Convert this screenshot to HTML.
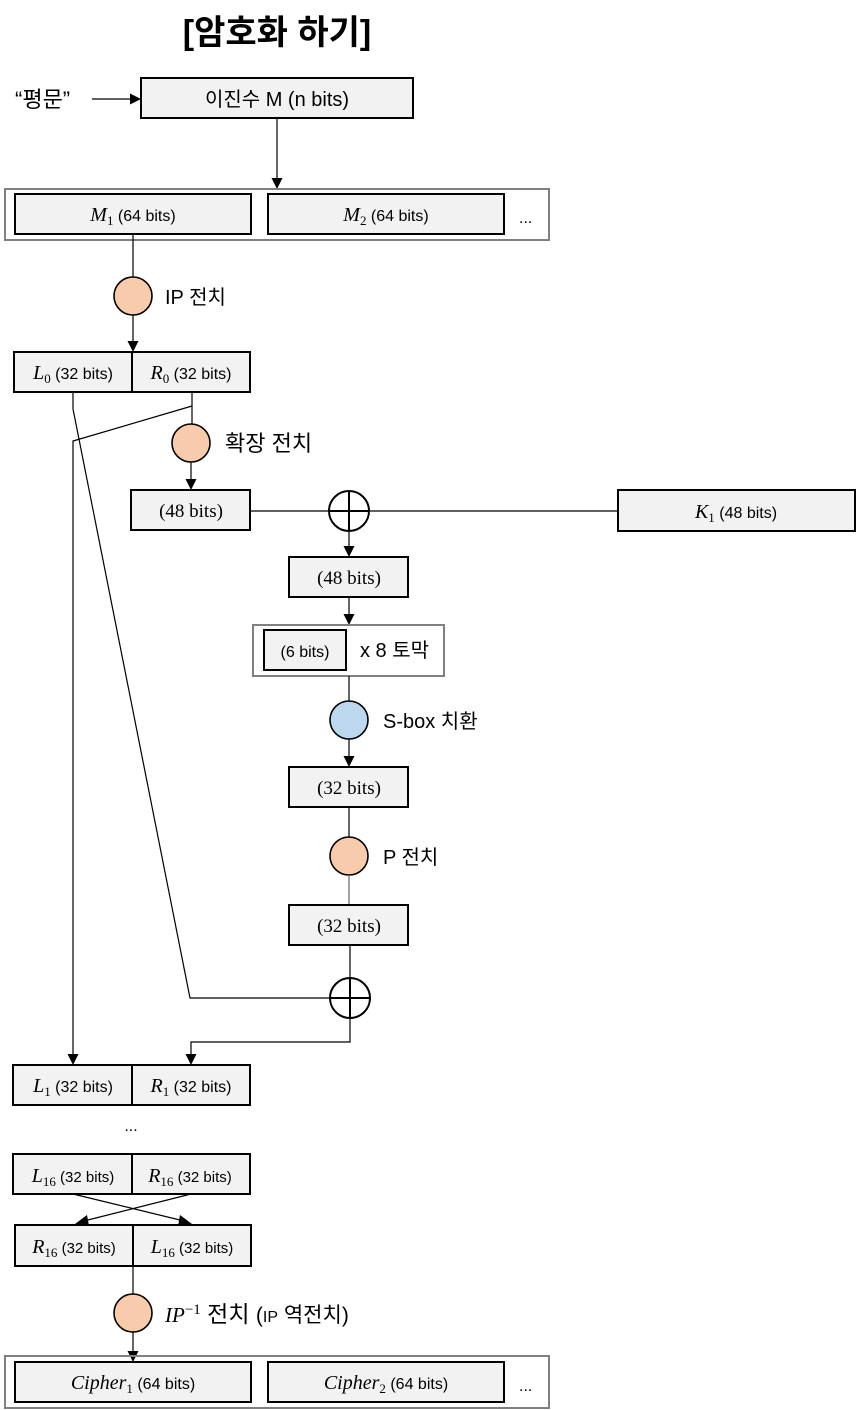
<!DOCTYPE html>
<html><head><meta charset="utf-8"><style>
html,body{margin:0;padding:0;background:#fff;}
svg{display:block;}
text{font-family:"Liberation Sans","Noto Sans CJK KR",sans-serif;fill:#000;}
.m{font-family:"Liberation Serif",serif;font-style:italic;font-size:20px;}
.sub{font-family:"Liberation Serif",serif;font-size:13px;}
.s{font-size:16px;}
.s2{font-size:15px;}
.ser{font-family:"Liberation Serif",serif;font-size:19px;}
.kr{font-family:"Liberation Sans","Noto Sans CJK KR",sans-serif;font-size:20px;}
.box{fill:#f2f2f2;stroke:#000;stroke-width:2;}
.gbox{fill:none;stroke:#808080;stroke-width:2;}
.ln{stroke:#000;stroke-width:1.2;fill:none;}
.c1{fill:#f8cbad;stroke:#000;stroke-width:1.6;}
.c2{fill:#bdd7ee;stroke:#000;stroke-width:1.6;}
.x{fill:#fff;stroke:#000;stroke-width:2;}
</style></head><body>
<svg width="856" height="1410" viewBox="0 0 856 1410" xmlns="http://www.w3.org/2000/svg">
<!-- title -->
<text x="277" y="44" text-anchor="middle" style="font-size:34px;font-weight:bold;">[암호화 하기]</text>

<!-- plaintext -->
<text x="15" y="107" style="font-size:22px;">“평문”</text>
<line class="ln" x1="92" y1="99" x2="133" y2="99"/>
<polygon points="130,93.5 141,99 130,104.5"/>
<rect class="box" x="141" y="78" width="272" height="40"/>
<text x="277" y="106" text-anchor="middle" style="font-size:20px;">이진수 M (n bits)</text>
<line class="ln" x1="277" y1="118" x2="277" y2="179"/>
<polygon points="271.5,178 282.5,178 277,189"/>

<!-- M blocks -->
<rect class="gbox" x="5" y="189" width="544" height="51"/>
<rect class="box" x="15" y="194" width="236" height="40"/>
<rect class="box" x="268" y="194" width="236" height="40"/>
<text x="133" y="221" text-anchor="middle"><tspan class="m">M</tspan><tspan class="sub" dy="4">1</tspan><tspan class="s" dy="-4"> (64 bits)</tspan></text>
<text x="386" y="221" text-anchor="middle"><tspan class="m">M</tspan><tspan class="sub" dy="4">2</tspan><tspan class="s" dy="-4"> (64 bits)</tspan></text>
<text x="519" y="223" style="font-size:16px;">...</text>

<!-- IP -->
<line class="ln" x1="133" y1="234" x2="133" y2="277"/>
<circle class="c1" cx="133" cy="296" r="19"/>
<text x="165" y="304" class="kr">IP 전치</text>
<line class="ln" x1="133" y1="315" x2="133" y2="342"/>
<polygon points="127.5,341 138.5,341 133,352"/>

<!-- L0 R0 -->
<rect class="box" x="14" y="352" width="236" height="40"/>
<line x1="132" y1="352" x2="132" y2="392" stroke="#000" stroke-width="2"/>
<text x="73" y="379" text-anchor="middle"><tspan class="m">L</tspan><tspan class="sub" dy="4">0</tspan><tspan class="s" dy="-4"> (32 bits)</tspan></text>
<text x="191" y="379" text-anchor="middle"><tspan class="m">R</tspan><tspan class="sub" dy="4">0</tspan><tspan class="s" dy="-4">  (32 bits)</tspan></text>

<!-- cross lines -->
<polyline class="ln" points="73,392 73,409 190,998 330,998"/>
<polyline class="ln" points="192,392 192,406 73,441 73,1055"/>
<polygon points="67.5,1054 78.5,1054 73,1065"/>

<!-- expansion -->
<line class="ln" x1="192" y1="406" x2="192" y2="424"/>
<circle class="c1" cx="191" cy="443" r="19"/>
<text x="225" y="451" class="kr" style="font-size:22px;">확장 전치</text>
<line class="ln" x1="191" y1="462" x2="191" y2="480"/>
<polygon points="185.5,479 196.5,479 191,490"/>
<rect class="box" x="131" y="490" width="119" height="40"/>
<text x="191" y="517" text-anchor="middle" class="ser">(48 bits)</text>

<line class="ln" x1="250" y1="511" x2="618" y2="511"/>
<circle class="x" cx="349" cy="511" r="20"/>
<line x1="349" y1="491" x2="349" y2="531" stroke="#000" stroke-width="2"/>
<line x1="329" y1="511" x2="369" y2="511" stroke="#000" stroke-width="2"/>
<rect class="box" x="618" y="490" width="237" height="41"/>
<text x="736" y="518" text-anchor="middle"><tspan class="m">K</tspan><tspan class="sub" dy="4">1</tspan><tspan class="s" dy="-4"> (48 bits)</tspan></text>

<line class="ln" x1="349" y1="531" x2="349" y2="547"/>
<polygon points="343.5,546 354.5,546 349,557"/>
<rect class="box" x="289" y="557" width="119" height="40"/>
<text x="349" y="584" text-anchor="middle" class="ser">(48 bits)</text>
<line class="ln" x1="349" y1="597" x2="349" y2="615"/>
<polygon points="343.5,614 354.5,614 349,625"/>

<rect class="gbox" x="253" y="625" width="191" height="51"/>
<rect class="box" x="264" y="630" width="82" height="40"/>
<text x="305" y="657" text-anchor="middle" class="s">(6 bits)</text>
<text x="360" y="657" style="font-size:20px;">x 8 토막</text>

<!-- S-box -->
<line class="ln" x1="349" y1="676" x2="349" y2="701"/>
<circle class="c2" cx="349" cy="720" r="19"/>
<text x="383" y="728" class="kr">S-box 치환</text>
<line class="ln" x1="349" y1="739" x2="349" y2="757"/>
<polygon points="343.5,756 354.5,756 349,767"/>
<rect class="box" x="289" y="767" width="119" height="40"/>
<text x="349" y="794" text-anchor="middle" class="ser">(32 bits)</text>

<!-- P -->
<line class="ln" x1="349" y1="807" x2="349" y2="837"/>
<circle class="c1" cx="349" cy="856" r="19"/>
<text x="383" y="864" class="kr">P 전치</text>
<line class="ln" x1="349" y1="875" x2="349" y2="905" style="stroke:#666"/>
<rect class="box" x="289" y="905" width="119" height="40"/>
<text x="349" y="932" text-anchor="middle" class="ser">(32 bits)</text>

<line class="ln" x1="350" y1="945" x2="350" y2="978"/>
<circle class="x" cx="350" cy="998" r="20"/>
<line x1="350" y1="978" x2="350" y2="1018" stroke="#000" stroke-width="2"/>
<line x1="330" y1="998" x2="370" y2="998" stroke="#000" stroke-width="2"/>
<polyline class="ln" points="350,1018 350,1042 191,1042 191,1055"/>
<polygon points="185.5,1054 196.5,1054 191,1065"/>

<!-- L1 R1 -->
<rect class="box" x="13" y="1065" width="237" height="40"/>
<line x1="132" y1="1065" x2="132" y2="1105" stroke="#000" stroke-width="2"/>
<text x="73" y="1092" text-anchor="middle"><tspan class="m">L</tspan><tspan class="sub" dy="4">1</tspan><tspan class="s" dy="-4"> (32 bits)</tspan></text>
<text x="191" y="1092" text-anchor="middle"><tspan class="m">R</tspan><tspan class="sub" dy="4">1</tspan><tspan class="s" dy="-4">  (32 bits)</tspan></text>

<text x="131" y="1131" text-anchor="middle" style="font-size:16px;">...</text>

<!-- L16 R16 -->
<rect class="box" x="13" y="1154" width="237" height="40"/>
<line x1="132" y1="1154" x2="132" y2="1194" stroke="#000" stroke-width="2"/>
<text x="73" y="1182" text-anchor="middle"><tspan class="m">L</tspan><tspan class="sub" dy="4">16</tspan><tspan class="s2" dy="-4">  (32 bits)</tspan></text>
<text x="190" y="1182" text-anchor="middle"><tspan class="m">R</tspan><tspan class="sub" dy="4">16</tspan><tspan class="s2" dy="-4"> (32 bits)</tspan></text>

<line class="ln" x1="73" y1="1194" x2="184" y2="1221"/>
<polygon points="180,1215 192,1224 178,1226"/>
<line class="ln" x1="191" y1="1194" x2="84" y2="1221"/>
<polygon points="87,1215 75,1224 89,1226"/>

<rect class="box" x="15" y="1225" width="236" height="41"/>
<line x1="133" y1="1225" x2="133" y2="1266" stroke="#000" stroke-width="2"/>
<text x="74" y="1253" text-anchor="middle"><tspan class="m">R</tspan><tspan class="sub" dy="4">16</tspan><tspan class="s2" dy="-4">  (32 bits)</tspan></text>
<text x="192" y="1253" text-anchor="middle"><tspan class="m">L</tspan><tspan class="sub" dy="4">16</tspan><tspan class="s2" dy="-4">  (32 bits)</tspan></text>

<!-- IP^-1 -->
<line class="ln" x1="133" y1="1266" x2="133" y2="1294"/>
<circle class="c1" cx="133" cy="1313" r="19"/>
<text x="165" y="1322"><tspan class="m" style="font-size:21px">IP</tspan><tspan class="sub" style="font-size:15px" dy="-8">−1</tspan><tspan class="kr" style="font-size:23px" dy="8"> 전치 </tspan><tspan style="font-size:21px">(</tspan><tspan style="font-size:16px">IP</tspan><tspan style="font-size:21px"> 역전치)</tspan></text>
<line class="ln" x1="133" y1="1332" x2="133" y2="1352"/>
<polygon points="127.5,1351 138.5,1351 133,1362"/>

<!-- cipher -->
<rect class="gbox" x="5" y="1356" width="544" height="52"/>
<rect class="box" x="15" y="1362" width="236" height="40"/>
<rect class="box" x="268" y="1362" width="236" height="40"/>
<text x="133" y="1389" text-anchor="middle"><tspan class="m">Cipher</tspan><tspan class="sub" dy="4">1</tspan><tspan class="s" dy="-4"> (64 bits)</tspan></text>
<text x="386" y="1389" text-anchor="middle"><tspan class="m">Cipher</tspan><tspan class="sub" dy="4">2</tspan><tspan class="s" dy="-4"> (64 bits)</tspan></text>
<text x="519" y="1391" style="font-size:16px;">...</text>
</svg>
</body></html>
